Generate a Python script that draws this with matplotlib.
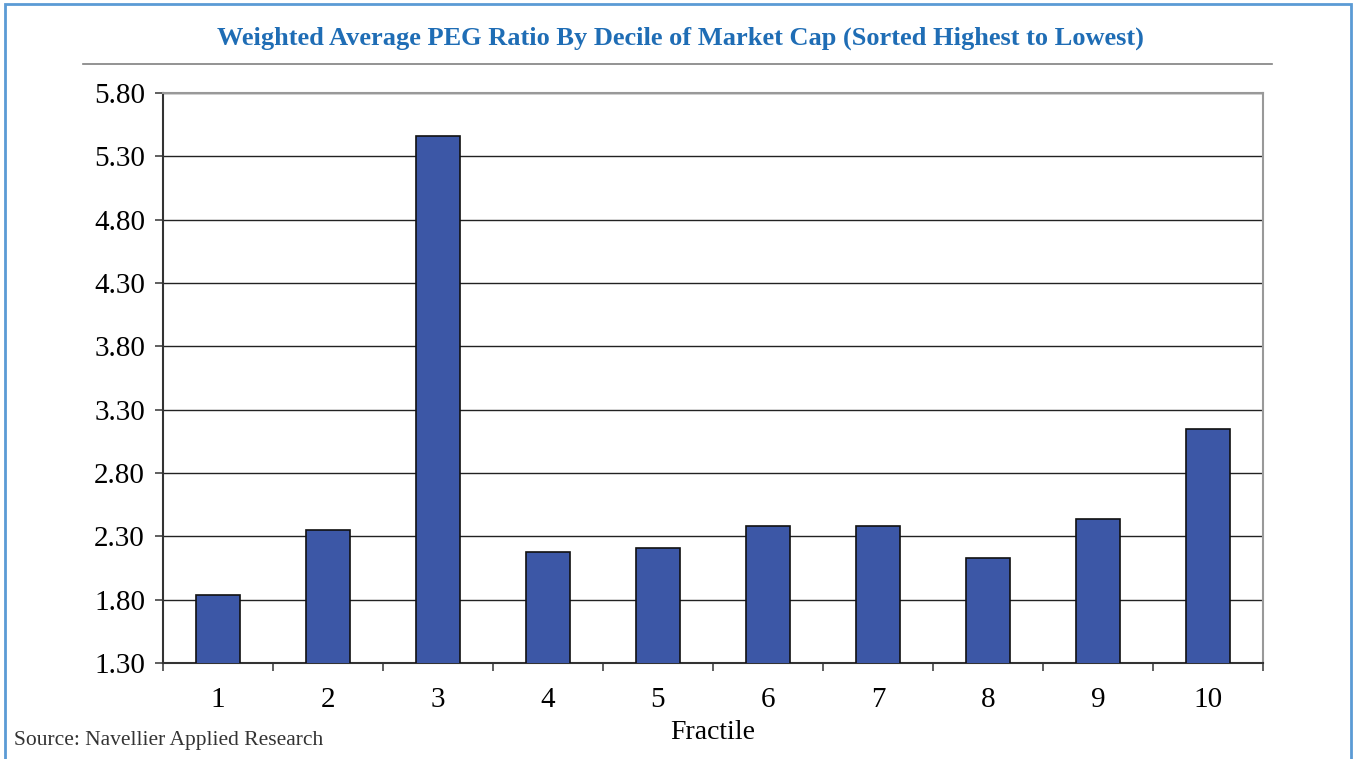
import matplotlib
matplotlib.use("Agg")
import matplotlib.pyplot as plt
from matplotlib.patches import Rectangle
from matplotlib.lines import Line2D

categories = ["1", "2", "3", "4", "5", "6", "7", "8", "9", "10"]
values = [1.84, 2.35, 5.46, 2.18, 2.21, 2.38, 2.38, 2.13, 2.44, 3.15]
yticks = [1.30, 1.80, 2.30, 2.80, 3.30, 3.80, 4.30, 4.80, 5.30, 5.80]

W, H = 1353, 759
fig = plt.figure(figsize=(W / 100, H / 100), dpi=100)
serif = ["Liberation Serif", "DejaVu Serif"]

# Figure border
fig.patches.append(Rectangle((5 / W, -0.01), (1351 - 5) / W, (759 - 4) / H + 0.01,
                             transform=fig.transFigure, fill=False,
                             edgecolor="#5b9bd5", linewidth=2))
# Title
fig.text(680 / W, 1 - 38 / H,
         "Weighted Average PEG Ratio By Decile of Market Cap (Sorted Highest to Lowest)",
         ha="center", va="center", fontsize=19, fontweight="bold",
         color="#1f6db5", family=serif)
fig.lines.append(Line2D([83 / W, 1272 / W], [1 - 64 / H, 1 - 64 / H],
                        transform=fig.transFigure, color="#808080", linewidth=1.2))

ax = fig.add_axes([163 / W, 1 - 663 / H, (1263 - 163) / W, (663 - 93) / H])
x = list(range(len(categories)))
ax.bar(x, values, width=0.4, color="#3c57a6", edgecolor="#111111", linewidth=1.2,
       zorder=3)
ax.set_xlim(-0.5, len(categories) - 0.5)
ax.set_ylim(yticks[0], yticks[-1])
ax.set_yticks(yticks)
ax.set_yticklabels([f"{v:.2f}" for v in yticks], family=serif, fontsize=21)
ax.set_xticks(x)
ax.set_xticklabels(categories, family=serif, fontsize=21)
ax.set_xticks([i - 0.5 for i in range(len(categories) + 1)], minor=True)
ax.tick_params(axis="x", which="major", length=0, pad=17)
ax.tick_params(axis="x", which="minor", length=6, width=1.2, color="#444444")
ax.tick_params(axis="y", length=6, width=1.2, color="#444444", pad=7)
ax.grid(axis="y", color="#222222", linewidth=1.0, zorder=0)
for s in ["top", "right"]:
    ax.spines[s].set_color("#999999")
    ax.spines[s].set_linewidth(1.5)
for s in ["left", "bottom"]:
    ax.spines[s].set_color("#333333")
    ax.spines[s].set_linewidth(1.5)
ax.set_xlabel("Fractile", family=serif, fontsize=20, labelpad=5)

fig.text(14 / W, 1 - 741 / H, "Source: Navellier Applied Research",
         ha="left", va="center", fontsize=15.5, color="#333333", family=serif)

fig.savefig("out.png", dpi=100)
